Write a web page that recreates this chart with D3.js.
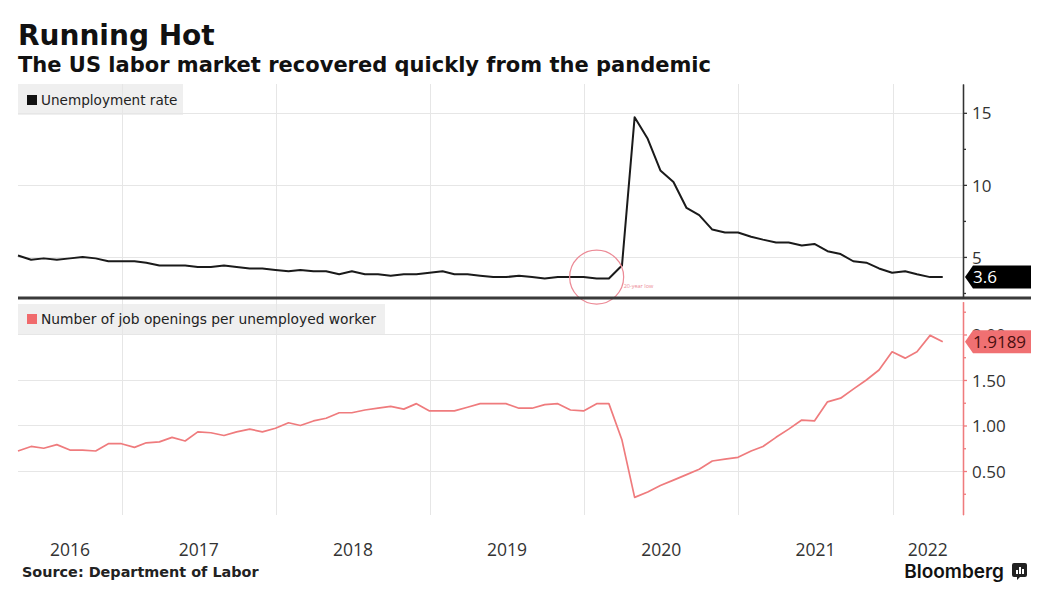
<!DOCTYPE html>
<html><head><meta charset="utf-8">
<script src="https://cdn.jsdelivr.net/npm/d3@7"></script>
<style>body{margin:0;background:#fff;} svg{display:block;}</style>
</head><body>
<script>
// ---- data ----
const startMonth = "2016-04"; // monthly observations, plotted at month end
const unemploymentRate = [
  5.1, 4.8, 4.9, 4.8, 4.9, 5.0, 4.9, 4.7, 4.7,
  4.7, 4.6, 4.4, 4.4, 4.4, 4.3, 4.3, 4.4, 4.3, 4.2, 4.2, 4.1,
  4.0, 4.1, 4.0, 4.0, 3.8, 4.0, 3.8, 3.8, 3.7, 3.8, 3.8, 3.9,
  4.0, 3.8, 3.8, 3.7, 3.6, 3.6, 3.7, 3.6, 3.5, 3.6, 3.6, 3.6,
  3.5, 3.5, 4.4, 14.7, 13.2, 11.0, 10.2, 8.4, 7.9, 6.9, 6.7, 6.7,
  6.4, 6.2, 6.0, 6.0, 5.8, 5.9, 5.4, 5.2, 4.7, 4.6, 4.2, 3.9,
  4.0, 3.8, 3.6, 3.6
];
const openingsPerUnemployed = [
  0.72, 0.77, 0.75, 0.79, 0.73, 0.73, 0.72, 0.80, 0.80,
  0.76, 0.81, 0.82, 0.87, 0.83, 0.93, 0.92, 0.89, 0.93, 0.96, 0.93, 0.97,
  1.03, 1.00, 1.05, 1.08, 1.14, 1.14, 1.17, 1.19, 1.21, 1.18, 1.24, 1.16,
  1.16, 1.16, 1.20, 1.24, 1.24, 1.24, 1.19, 1.19, 1.23, 1.24, 1.17, 1.16,
  1.24, 1.24, 0.84, 0.21, 0.27, 0.34, 0.40, 0.46, 0.52, 0.61, 0.63, 0.65,
  0.72, 0.77, 0.87, 0.96, 1.06, 1.05, 1.26, 1.30, 1.40, 1.50, 1.61, 1.81,
  1.74, 1.81, 1.99, 1.9189
];
const unempTicks = [5, 10, 15];
const unempMinorTicks = [2.5, 7.5, 12.5];
const ratioTicks = [0.5, 1.0, 1.5, 2.0];
const ratioMinorTicks = [0.25, 0.75, 1.25, 1.75, 2.25];
const yearLabels = [2016, 2017, 2018, 2019, 2020, 2021, 2022];
const lastUnempLabel = "3.6";
const lastRatioLabel = "1.9189";
const annotationDate = "2020-01-31";
const annotationValue = 3.6;
const annotationText = "20-year low";
const titleText = "Running Hot";
const subtitleText = "The US labor market recovered quickly from the pandemic";
const legendTop = "Unemployment rate";
const legendBottom = "Number of job openings per unemployed worker";
const sourceText = "Source: Department of Labor";

// ---- setup ----
const W = 1050, H = 611;
const svg = d3.select("body").append("svg").attr("width", W).attr("height", H);
const LEFT = 18, RIGHT = 963;
const TICKFONT = "'Open Sans', 'Noto Sans', sans-serif";
const BOLDFONT = "'DejaVu Sans', Verdana, sans-serif";
const RED = "#ef7b7d";

const start = d3.timeParse("%Y-%m")(startMonth);
const monthEnd = i => d3.timeDay.offset(d3.timeMonth.offset(start, i + 1), -1);
const unempData = unemploymentRate.map((v, i) => ({d: monthEnd(i), v}));
const ratioData = openingsPerUnemployed.map((v, i) => ({d: monthEnd(i), v}));

const x = d3.scaleTime().domain([new Date(2016, 3, 30), new Date(2022, 5, 17)]).range([LEFT, RIGHT]);
const yTop = d3.scaleLinear().domain([2.15, 17.0]).range([298, 84]);
const yBot = d3.scaleLinear().domain([0.02, 2.36]).range([514.7, 301.7]);

// ---- titles ----
svg.append("text").attr("x", 18).attr("y", 45).text(titleText)
  .attr("font-family", BOLDFONT).attr("font-weight", "bold").attr("font-size", 28).attr("fill", "#111");
svg.append("text").attr("x", 18).attr("y", 72).text(subtitleText)
  .attr("font-family", BOLDFONT).attr("font-weight", "bold").attr("font-size", 21).attr("fill", "#111");

// ---- legend backgrounds ----
svg.append("rect").attr("x", LEFT).attr("y", 84).attr("width", 165).attr("height", 31).attr("fill", "#efefef");
svg.append("rect").attr("x", LEFT).attr("y", 304).attr("width", 367).attr("height", 30).attr("fill", "#efefef");

// ---- gridlines ----
const grid = svg.append("g").attr("stroke", "#e6e6e6").attr("stroke-width", 1).attr("fill", "none");
const yearStarts = yearLabels.map(y => new Date(y, 0, 1)).filter(d => x(d) > LEFT && x(d) < RIGHT);
grid.selectAll("line.v").data(yearStarts).join("line")
  .attr("x1", d => Math.round(x(d)) + 0.5).attr("x2", d => Math.round(x(d)) + 0.5)
  .attr("y1", 84).attr("y2", 515);
grid.selectAll("line.ht").data(unempTicks).join("line").attr("class", "ht")
  .attr("x1", LEFT).attr("x2", RIGHT)
  .attr("y1", d => Math.round(yTop(d)) + 0.5).attr("y2", d => Math.round(yTop(d)) + 0.5);
grid.selectAll("line.hb").data(ratioTicks).join("line").attr("class", "hb")
  .attr("x1", LEFT).attr("x2", RIGHT)
  .attr("y1", d => Math.round(yBot(d)) + 0.5).attr("y2", d => Math.round(yBot(d)) + 0.5);

// ---- legends ----
svg.append("rect").attr("x", 27).attr("y", 95).attr("width", 10).attr("height", 10).attr("fill", "#111");
svg.append("text").attr("x", 41).attr("y", 105).text(legendTop)
  .attr("font-family", "'DejaVu Sans', sans-serif").attr("font-size", 13.6).attr("fill", "#222");
svg.append("rect").attr("x", 27).attr("y", 314).attr("width", 10).attr("height", 10).attr("fill", "#f06a6c");
svg.append("text").attr("x", 41).attr("y", 324).text(legendBottom)
  .attr("font-family", "'DejaVu Sans', sans-serif").attr("font-size", 13.8).attr("fill", "#222");

// ---- lines ----
const lineTop = d3.line().x(d => x(d.d)).y(d => yTop(d.v));
const lineBot = d3.line().x(d => x(d.d)).y(d => yBot(d.v));
svg.append("path").datum(unempData).attr("d", lineTop)
  .attr("fill", "none").attr("stroke", "#1a1a1a").attr("stroke-width", 2).attr("stroke-linejoin", "round");
svg.append("path").datum(ratioData).attr("d", lineBot)
  .attr("fill", "none").attr("stroke", RED).attr("stroke-width", 1.7).attr("stroke-linejoin", "round");

// ---- annotation ----
const ad = d3.timeParse("%Y-%m-%d")(annotationDate);
svg.append("circle").attr("cx", x(ad)).attr("cy", yTop(annotationValue)).attr("r", 27)
  .attr("fill", "none").attr("stroke", "#ec8a96").attr("stroke-width", 1.2);
svg.append("text").attr("x", x(ad) + 27).attr("y", yTop(annotationValue) + 11).text(annotationText)
  .attr("font-family", TICKFONT).attr("font-size", 5.5).attr("fill", "#ec8a96");

// ---- separator ----
svg.append("rect").attr("x", LEFT).attr("y", 296.5).attr("width", 1031 - LEFT).attr("height", 3).attr("fill", "#3a3a3a");

// ---- right axes ----
function styleAxis(g, color) {
  g.select(".domain").attr("stroke", color).attr("stroke-width", 1.3);
  g.selectAll(".tick line").attr("stroke", color).attr("stroke-width", 1.3);
  g.selectAll(".tick text").attr("fill", "#333").attr("font-family", TICKFONT).attr("font-size", 17);
}
const axTop = svg.append("g").attr("transform", `translate(${RIGHT},0)`)
  .call(d3.axisRight(yTop).tickValues(unempTicks).tickSize(4).tickSizeOuter(0).tickPadding(5).tickFormat(d3.format("d")));
styleAxis(axTop, "#333");
const axTopMinor = svg.append("g").attr("transform", `translate(${RIGHT},0)`)
  .call(d3.axisRight(yTop).tickValues(unempMinorTicks).tickSize(3).tickSizeOuter(0).tickFormat(""));
styleAxis(axTopMinor, "#333");

const axBot = svg.append("g").attr("transform", `translate(${RIGHT},0)`)
  .call(d3.axisRight(yBot).tickValues(ratioTicks).tickSize(4).tickSizeOuter(0).tickPadding(5).tickFormat(d3.format(".2f")));
styleAxis(axBot, RED);
const axBotMinor = svg.append("g").attr("transform", `translate(${RIGHT},0)`)
  .call(d3.axisRight(yBot).tickValues(ratioMinorTicks).tickSize(3).tickSizeOuter(0).tickFormat(""));
styleAxis(axBotMinor, RED);
[axTop, axBot].forEach(g => g.selectAll(".tick text").attr("dy", "0.36em"));

// ---- last-value labels ----
function valueTag(cy, fill, textColor, label) {
  const h = 23, x0 = RIGHT + 2, xa = x0 + 8, x1 = 1031;
  svg.append("path")
    .attr("d", `M${x0},${cy} L${xa},${cy - h / 2} L${x1},${cy - h / 2} L${x1},${cy + h / 2} L${xa},${cy + h / 2} Z`)
    .attr("fill", fill);
  svg.append("text").attr("x", x0 + 8).attr("y", cy).attr("dy", "0.36em").text(label)
    .attr("font-family", TICKFONT).attr("font-size", 17).attr("fill", textColor);
}
valueTag(yTop(unemploymentRate[unemploymentRate.length - 1]), "#000", "#fff", lastUnempLabel);
valueTag(yBot(openingsPerUnemployed[openingsPerUnemployed.length - 1]), "#f07072", "#4a0f10", lastRatioLabel);

// ---- x labels ----
svg.append("g").selectAll("text").data(yearLabels).join("text")
  .attr("x", y => {
    const a = Math.max(x(new Date(y, 0, 1)), LEFT), b = Math.min(x(new Date(y + 1, 0, 1)), RIGHT);
    return (a + b) / 2;
  })
  .attr("y", 556).attr("text-anchor", "middle").text(d => d)
  .attr("font-family", TICKFONT).attr("font-size", 17.5).attr("fill", "#333");

// ---- footer ----
svg.append("text").attr("x", 22).attr("y", 577).text(sourceText)
  .attr("font-family", BOLDFONT).attr("font-weight", "bold").attr("font-size", 14.4).attr("fill", "#222");
svg.append("text").attr("x", 1004).attr("y", 578).attr("text-anchor", "end").text("Bloomberg")
  .attr("font-family", "Inter, 'Open Sans', sans-serif").attr("font-weight", 600).attr("font-size", 19).attr("fill", "#111");
const logo = svg.append("g").attr("transform", "translate(1012,563)");
logo.append("path").attr("d", "M2,0 H13 Q15,0 15,2 V12 Q15,14 13,14 H8 L5,17 V14 H2 Q0,14 0,12 V2 Q0,0 2,0 Z").attr("fill", "#222");
[[4, 7, 2], [7, 4, 2], [10, 6, 2]].forEach(([bx, by, bw]) =>
  logo.append("rect").attr("x", bx).attr("y", by).attr("width", bw).attr("height", 11 - by).attr("fill", "#fff"));
</script>
</body></html>
